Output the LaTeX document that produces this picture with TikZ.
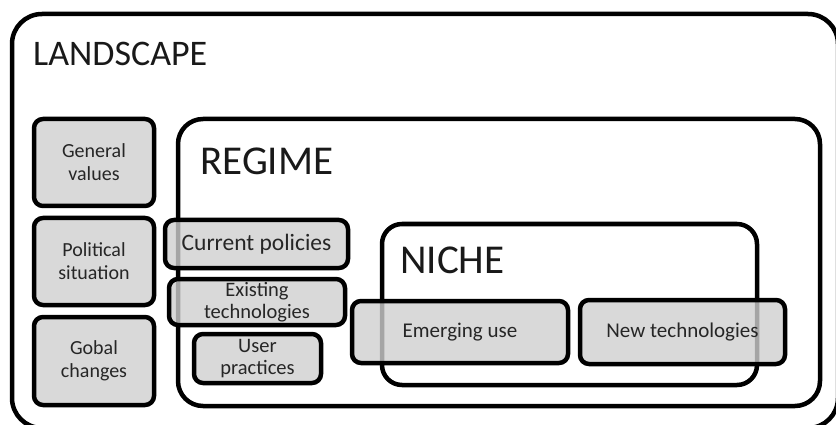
\documentclass[tikz,border=0pt]{standalone}
\usepackage{fontspec}
\setmainfont{Carlito}
\begin{document}
\begin{tikzpicture}[x=1pt,y=-1pt,
  frame/.style={draw=black,line width=4.5pt},
  gbox/.style={draw=black,line width=4.5pt,fill=black!19,fill opacity=0.8,text opacity=1,
    rounded corners=9pt,align=center,inner sep=0pt,text=black!85},
  big/.style={anchor=base west,inner sep=0pt,text=black!90}]
\useasboundingbox (0,0) rectangle (836,425);
\begin{scope}
\clip (0,0) rectangle (836,425);
\draw[frame,rounded corners=30pt] (12,14) rectangle (838,428);
\end{scope}
\node[big,font=\fontsize{36}{40}\selectfont] (landscape) at (33,66) {LANDSCAPE};
\draw[frame,rounded corners=25pt] (178,119) rectangle (820,406);
\node[big,font=\fontsize{41}{44}\selectfont] (regime) at (200,175) {REGIME};
\draw[frame,rounded corners=20pt] (382,224) rectangle (757,385);
\node[big,font=\fontsize{41}{44}\selectfont] (niche) at (400,273) {NICHE};
% landscape boxes
\node[gbox,minimum width=120pt,minimum height=87pt,font=\fontsize{20}{23}\selectfont] (gv) at (94,162.5) {General\\values};
\node[gbox,minimum width=120pt,minimum height=87pt,font=\fontsize{20}{23}\selectfont] (ps) at (94,261.5) {Political\\situation};
\node[gbox,minimum width=120pt,minimum height=88pt,font=\fontsize{20}{23}\selectfont] (gc) at (94,361) {Gobal\\changes};
% regime boxes
\node[gbox,minimum width=183pt,minimum height=48pt,font=\fontsize{23.5}{26}\selectfont] (cp) at (256.5,244) {Current policies};
\node[gbox,minimum width=176pt,minimum height=46pt,font=\fontsize{20.5}{21.5}\selectfont] (et) at (257,302) {Existing\\technologies};
\node[gbox,minimum width=127pt,minimum height=49pt,font=\fontsize{20.5}{21.5}\selectfont] (up) at (257.5,358.5) {User\\practices};
% niche boxes
\node[gbox,minimum width=216pt,minimum height=62pt,font=\fontsize{21}{24}\selectfont] (eu) at (460,332) {Emerging use};
\node[gbox,minimum width=205pt,minimum height=64pt,font=\fontsize{21}{24}\selectfont] (nt) at (682.5,332) {New technologies};
\end{tikzpicture}
\end{document}
